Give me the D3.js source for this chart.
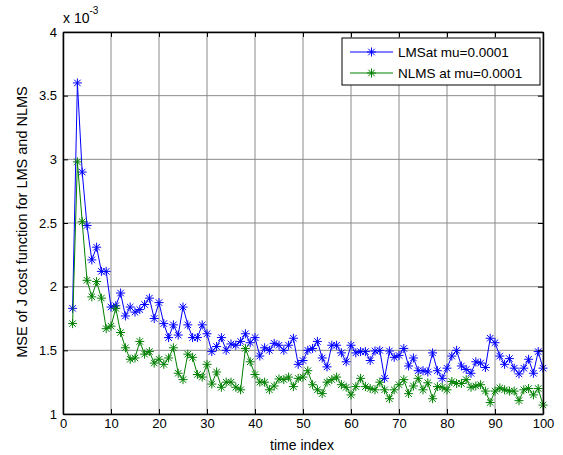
<!DOCTYPE html>
<html>
<head>
<meta charset="utf-8">
<script src="https://cdn.jsdelivr.net/npm/d3@7"></script>
<style>
	body { margin: 0; background: #fff; }
	svg { display: block; font-family: 'Liberation Sans', Arial, sans-serif; }
</style>
</head>
<body>
<svg id="chart" width="563" height="455"></svg>
<script>
// values are shown in units of 1e-3 (axis multiplier "x 10^-3")
const timeIndex = d3.range(2, 101)

const lmsValues = [
	1.83, 3.60, 2.90, 2.48, 2.21, 2.31, 2.12, 2.12, 1.84, 1.85,
	1.95, 1.77, 1.84, 1.80, 1.82, 1.86, 1.91, 1.75, 1.875, 1.71,
	1.60, 1.70, 1.62, 1.84, 1.70, 1.60, 1.60, 1.70, 1.63, 1.49,
	1.53, 1.60, 1.50, 1.55, 1.54, 1.57, 1.63, 1.56, 1.60, 1.455,
	1.52, 1.50, 1.555, 1.54, 1.50, 1.54, 1.595, 1.39, 1.42, 1.50,
	1.515, 1.57, 1.44, 1.37, 1.54, 1.54, 1.48, 1.41, 1.54, 1.48,
	1.49, 1.49, 1.42, 1.495, 1.50, 1.28, 1.495, 1.445, 1.46, 1.515,
	1.377, 1.44, 1.34, 1.34, 1.33, 1.48, 1.34, 1.28, 1.36, 1.455,
	1.50, 1.377, 1.35, 1.32, 1.41, 1.40, 1.365, 1.595, 1.56, 1.455,
	1.39, 1.435, 1.36, 1.315, 1.36, 1.43, 1.32, 1.49, 1.36
]

const nlmsValues = [
	1.71, 2.98, 2.51, 2.05, 1.92, 2.04, 1.91, 1.67, 1.69, 1.83,
	1.64, 1.52, 1.43, 1.44, 1.57, 1.47, 1.49, 1.40, 1.43, 1.39,
	1.44, 1.52, 1.32, 1.27, 1.47, 1.445, 1.31, 1.29, 1.39, 1.235,
	1.33, 1.21, 1.25, 1.25, 1.21, 1.19, 1.515, 1.41, 1.31, 1.25,
	1.25, 1.19, 1.22, 1.275, 1.27, 1.29, 1.215, 1.28, 1.29, 1.34,
	1.23, 1.19, 1.16, 1.25, 1.27, 1.29, 1.23, 1.21, 1.15, 1.215,
	1.28, 1.215, 1.20, 1.19, 1.25, 1.19, 1.12, 1.19, 1.23, 1.27,
	1.16, 1.22, 1.28, 1.19, 1.245, 1.12, 1.215, 1.21, 1.19, 1.255,
	1.24, 1.24, 1.27, 1.21, 1.22, 1.23, 1.18, 1.09, 1.18, 1.205,
	1.19, 1.18, 1.18, 1.105, 1.19, 1.20, 1.15, 1.20, 1.07
]

const xTicks = [0, 10, 20, 30, 40, 50, 60, 70, 80, 90, 100]
const yTicks = [1, 1.5, 2, 2.5, 3, 3.5, 4]

const seriesNames = ['LMSat mu=0.0001', 'NLMS at mu=0.0001']
const seriesColors = ['#0000ff', '#008000']

const svg = d3.select('#chart')
const margin = { top: 32, right: 20, bottom: 41, left: 63 }
const W = 563, H = 455
const iw = W - margin.left - margin.right
const ih = H - margin.top - margin.bottom

const g = svg.append('g').attr('transform', `translate(${margin.left},${margin.top})`)

const x = d3.scaleLinear().domain([0, 100]).range([0, iw])
const y = d3.scaleLinear().domain([1, 4]).range([ih, 0])

// grid
g.append('g').selectAll('line.gx')
	.data(xTicks)
	.join('line')
	.attr('x1', d => x(d)).attr('x2', d => x(d))
	.attr('y1', 0).attr('y2', ih)
	.attr('stroke', '#8a8a8a')
	.attr('stroke-width', 1)
g.append('g').selectAll('line.gy')
	.data(yTicks)
	.join('line')
	.attr('x1', 0).attr('x2', iw)
	.attr('y1', d => y(d)).attr('y2', d => y(d))
	.attr('stroke', '#8a8a8a')
	.attr('stroke-width', 1)

// series
const line = d3.line()
	.x((d, i) => x(timeIndex[i]))
	.y(d => y(d))

const star = s => {
	const k = s * 0.72
	return `M${-s},0H${s}M0,${-s}V${s}M${-k},${-k}L${k},${k}M${-k},${k}L${k},${-k}`
}

const allSeries = [lmsValues, nlmsValues]
allSeries.forEach((vals, si) => {
	const color = seriesColors[si]
	g.append('path')
		.datum(vals)
		.attr('fill', 'none')
		.attr('stroke', color)
		.attr('stroke-width', 1)
		.attr('d', line)
	g.append('g').selectAll('path')
		.data(vals)
		.join('path')
		.attr('transform', (d, i) => `translate(${x(timeIndex[i])},${y(d)})`)
		.attr('d', star(4.5))
		.attr('fill', 'none')
		.attr('stroke', color)
		.attr('stroke-width', 1)
})

// axes (ticks inside, MATLAB style)
const styleAxis = sel => {
	sel.selectAll('path.domain').attr('stroke', '#000').attr('stroke-width', 1.5)
	sel.selectAll('.tick line').attr('stroke', '#000')
	sel.selectAll('text').attr('fill', '#000').style('font-size', '13px')
		.style('font-family', "'Liberation Sans', Arial, sans-serif")
}

g.append('g')
	.attr('transform', `translate(0,${ih})`)
	.call(d3.axisBottom(x).tickValues(xTicks).tickSize(-5).tickSizeOuter(0).tickPadding(5))
	.call(styleAxis)
g.append('g')
	.call(d3.axisLeft(y).tickValues(yTicks).tickSize(-5).tickSizeOuter(0).tickPadding(6)
		.tickFormat(d3.format('~g')))
	.call(styleAxis)
g.append('g')
	.call(d3.axisTop(x).tickValues(xTicks).tickSize(-5).tickSizeOuter(0).tickFormat(''))
	.call(styleAxis)
g.append('g')
	.attr('transform', `translate(${iw},0)`)
	.call(d3.axisRight(y).tickValues(yTicks).tickSize(-5).tickSizeOuter(0).tickFormat(''))
	.call(styleAxis)

// exponent label
const expo = svg.append('text')
	.attr('x', margin.left)
	.attr('y', 23)
	.style('font-size', '14px')
expo.append('tspan').text('x 10')
expo.append('tspan').attr('dy', -9).style('font-size', '10px').text('-3')

// axis titles
svg.append('text')
	.attr('x', margin.left + iw / 2 - 1)
	.attr('y', 450)
	.attr('text-anchor', 'middle')
	.style('font-size', '14px')
	.text('time index')

svg.append('text')
	.attr('transform', `translate(27,${margin.top + ih / 2 - 1}) rotate(-90)`)
	.attr('text-anchor', 'middle')
	.style('font-size', '14.5px')
	.text('MSE of J cost function for LMS and NLMS')

// legend
const legend = svg.append('g').attr('transform', 'translate(342,38)')
legend.append('rect')
	.attr('width', 198).attr('height', 47)
	.attr('fill', '#fff').attr('stroke', '#000').attr('stroke-width', 1)
seriesNames.forEach((name, i) => {
	const ly = 14 + i * 21
	const row = legend.append('g').attr('transform', `translate(0,${ly})`)
	row.append('line')
		.attr('x1', 8).attr('x2', 51)
		.attr('stroke', seriesColors[i]).attr('stroke-width', 1)
	row.append('path')
		.attr('transform', 'translate(29.5,0)')
		.attr('d', star(4.5))
		.attr('fill', 'none').attr('stroke', seriesColors[i])
	row.append('text')
		.attr('x', 56).attr('dy', '0.35em')
		.style('font-size', '13.5px')
		.text(name)
})
</script>
</body>
</html>
